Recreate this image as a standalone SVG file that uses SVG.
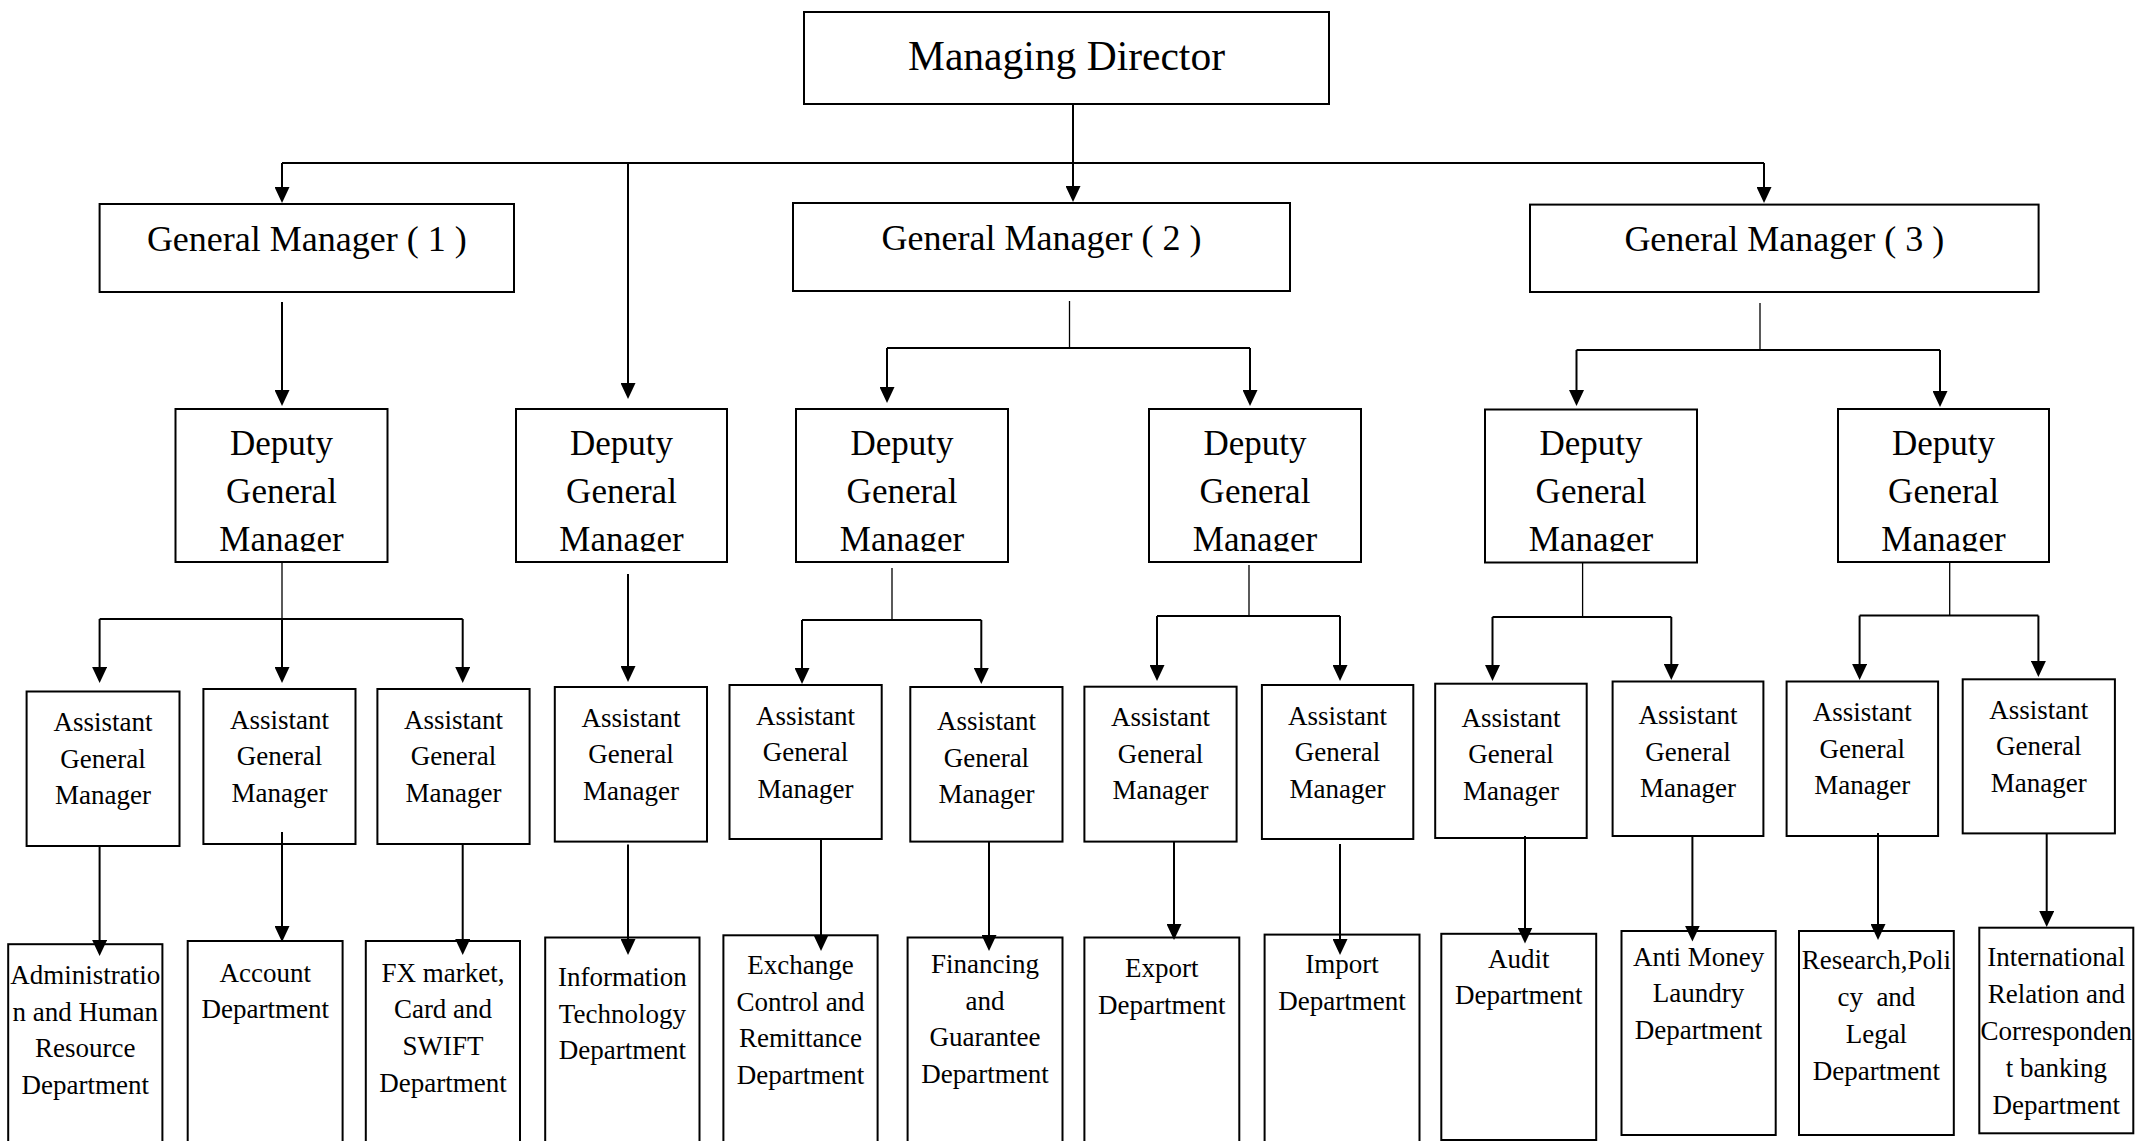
<svg xmlns="http://www.w3.org/2000/svg" width="2136" height="1141" viewBox="0 0 2136 1141">
<style>
.box{fill:#fff;stroke:#000;stroke-width:2}
.t{font-family:"Liberation Serif","Times New Roman",serif;fill:#000;text-anchor:middle}
.md{font-size:41.5px}
.gm{font-size:36px}
.dg{font-size:35px}
.ag{font-size:27px}
.dp{font-size:27px}
.c{fill:none;stroke:#000;stroke-width:2}
.a{fill:none;stroke:#000;stroke-width:2;marker-end:url(#ah)}
.s{fill:none;stroke:#000;stroke-width:1.3}
</style>
<defs>
<marker id="ah" viewBox="0 0 16 15" refX="6" refY="7.5" markerWidth="16" markerHeight="15" markerUnits="userSpaceOnUse" orient="auto"><path d="M0,0 L16,7.5 L0,15 z" fill="#000"/></marker>
<clipPath id="dclip" clipPathUnits="userSpaceOnUse"><rect x="0" y="0" width="2136" height="551.5"/></clipPath>
</defs>
<rect width="2136" height="1141" fill="#fff"/>

<g id="md"><rect class="box" x="804" y="12" width="525" height="92"/><text class="t md" x="1066.5" y="70">Managing Director</text></g>

<g id="gm1"><rect class="box" x="99.6" y="204" width="414.4" height="88"/><text class="t gm" x="306.8" y="251">General Manager ( 1 )</text></g>
<g id="gm2"><rect class="box" x="793" y="203" width="497" height="88"/><text class="t gm" x="1041.5" y="250">General Manager ( 2 )</text></g>
<g id="gm3"><rect class="box" x="1530" y="204.6" width="508.6" height="87.4"/><text class="t gm" x="1784.3" y="251">General Manager ( 3 )</text></g>

<g id="dgm1"><rect class="box" x="175.5" y="409" width="212" height="153"/><text class="t dg" x="281.5" y="455" clip-path="url(#dclip)"><tspan x="281.5">Deputy</tspan><tspan x="281.5" dy="48">General</tspan><tspan x="281.5" dy="48">Manager</tspan></text></g>
<g id="dgm2"><rect class="box" x="516" y="409" width="211" height="153"/><text class="t dg" x="621.5" y="455" clip-path="url(#dclip)"><tspan x="621.5">Deputy</tspan><tspan x="621.5" dy="48">General</tspan><tspan x="621.5" dy="48">Manager</tspan></text></g>
<g id="dgm3"><rect class="box" x="796" y="409" width="212" height="153"/><text class="t dg" x="902" y="455" clip-path="url(#dclip)"><tspan x="902">Deputy</tspan><tspan x="902" dy="48">General</tspan><tspan x="902" dy="48">Manager</tspan></text></g>
<g id="dgm4"><rect class="box" x="1149" y="409" width="212" height="153"/><text class="t dg" x="1255" y="455" clip-path="url(#dclip)"><tspan x="1255">Deputy</tspan><tspan x="1255" dy="48">General</tspan><tspan x="1255" dy="48">Manager</tspan></text></g>
<g id="dgm5"><rect class="box" x="1485" y="409.5" width="212" height="153"/><text class="t dg" x="1591" y="455" clip-path="url(#dclip)"><tspan x="1591">Deputy</tspan><tspan x="1591" dy="48">General</tspan><tspan x="1591" dy="48">Manager</tspan></text></g>
<g id="dgm6"><rect class="box" x="1838" y="409" width="211" height="153"/><text class="t dg" x="1943.5" y="455" clip-path="url(#dclip)"><tspan x="1943.5">Deputy</tspan><tspan x="1943.5" dy="48">General</tspan><tspan x="1943.5" dy="48">Manager</tspan></text></g>

<g id="agm1"><rect class="box" x="26.6" y="691.5" width="152.9" height="154.5"/><text class="t ag" y="731"><tspan x="103">Assistant</tspan><tspan x="103" dy="36.5">General</tspan><tspan x="103" dy="36.5">Manager</tspan></text></g>
<g id="agm2"><rect class="box" x="203.4" y="689" width="152.1" height="155"/><text class="t ag" y="728.6"><tspan x="279.5">Assistant</tspan><tspan x="279.5" dy="36.5">General</tspan><tspan x="279.5" dy="36.5">Manager</tspan></text></g>
<g id="agm3"><rect class="box" x="377.4" y="689" width="152.2" height="155"/><text class="t ag" y="728.6"><tspan x="453.5">Assistant</tspan><tspan x="453.5" dy="36.5">General</tspan><tspan x="453.5" dy="36.5">Manager</tspan></text></g>
<g id="agm4"><rect class="box" x="554.8" y="687" width="152.2" height="154.6"/><text class="t ag" y="726.5"><tspan x="631">Assistant</tspan><tspan x="631" dy="36.5">General</tspan><tspan x="631" dy="36.5">Manager</tspan></text></g>
<g id="agm5"><rect class="box" x="729.5" y="685" width="152.2" height="154"/><text class="t ag" y="724.8"><tspan x="805.6">Assistant</tspan><tspan x="805.6" dy="36.5">General</tspan><tspan x="805.6" dy="36.5">Manager</tspan></text></g>
<g id="agm6"><rect class="box" x="910.3" y="687" width="152.2" height="154.6"/><text class="t ag" y="730"><tspan x="986.4">Assistant</tspan><tspan x="986.4" dy="36.5">General</tspan><tspan x="986.4" dy="36.5">Manager</tspan></text></g>
<g id="agm7"><rect class="box" x="1084.4" y="686.7" width="152.2" height="154.9"/><text class="t ag" y="726.2"><tspan x="1160.5">Assistant</tspan><tspan x="1160.5" dy="36.5">General</tspan><tspan x="1160.5" dy="36.5">Manager</tspan></text></g>
<g id="agm8"><rect class="box" x="1261.9" y="685" width="151.4" height="154"/><text class="t ag" y="724.5"><tspan x="1337.6">Assistant</tspan><tspan x="1337.6" dy="36.5">General</tspan><tspan x="1337.6" dy="36.5">Manager</tspan></text></g>
<g id="agm9"><rect class="box" x="1435.2" y="683.7" width="151.5" height="154.3"/><text class="t ag" y="726.7"><tspan x="1511">Assistant</tspan><tspan x="1511" dy="36.5">General</tspan><tspan x="1511" dy="36.5">Manager</tspan></text></g>
<g id="agm10"><rect class="box" x="1612.6" y="681.5" width="150.8" height="154.5"/><text class="t ag" y="724"><tspan x="1688">Assistant</tspan><tspan x="1688" dy="36.5">General</tspan><tspan x="1688" dy="36.5">Manager</tspan></text></g>
<g id="agm11"><rect class="box" x="1786.6" y="681.5" width="151.5" height="154.5"/><text class="t ag" y="721"><tspan x="1862.3">Assistant</tspan><tspan x="1862.3" dy="36.5">General</tspan><tspan x="1862.3" dy="36.5">Manager</tspan></text></g>
<g id="agm12"><rect class="box" x="1962.7" y="679.3" width="152.2" height="154.1"/><text class="t ag" y="718.6"><tspan x="2038.8">Assistant</tspan><tspan x="2038.8" dy="36.5">General</tspan><tspan x="2038.8" dy="36.5">Manager</tspan></text></g>

<g id="dept1"><rect class="box" x="8.2" y="944.2" width="154.2" height="220"/><text class="t dp" y="984"><tspan x="85.3">Administratio</tspan><tspan x="85.3" dy="36.7">n and Human</tspan><tspan x="85.3" dy="36.7">Resource</tspan><tspan x="85.3" dy="36.7">Department</tspan></text></g>
<g id="dept2"><rect class="box" x="187.7" y="941" width="154.9" height="220"/><text class="t dp" y="981.6"><tspan x="265.2">Account</tspan><tspan x="265.2" dy="36.7">Department</tspan></text></g>
<g id="dept3"><rect class="box" x="365.8" y="941" width="154.2" height="220"/><text class="t dp" y="981.6"><tspan x="443">FX market,</tspan><tspan x="443" dy="36.7">Card and</tspan><tspan x="443" dy="36.7">SWIFT</tspan><tspan x="443" dy="36.7">Department</tspan></text></g>
<g id="dept4"><rect class="box" x="545.2" y="937.5" width="154.3" height="220"/><text class="t dp" y="986"><tspan x="622.4">Information</tspan><tspan x="622.4" dy="36.7">Technology</tspan><tspan x="622.4" dy="36.7">Department</tspan></text></g>
<g id="dept5"><rect class="box" x="723.4" y="935.3" width="154.2" height="220"/><text class="t dp" y="974"><tspan x="800.5">Exchange</tspan><tspan x="800.5" dy="36.7">Control and</tspan><tspan x="800.5" dy="36.7">Remittance</tspan><tspan x="800.5" dy="36.7">Department</tspan></text></g>
<g id="dept6"><rect class="box" x="907.6" y="937.5" width="154.9" height="220"/><text class="t dp" y="973"><tspan x="985">Financing</tspan><tspan x="985" dy="36.7">and</tspan><tspan x="985" dy="36.7">Guarantee</tspan><tspan x="985" dy="36.7">Department</tspan></text></g>
<g id="dept7"><rect class="box" x="1084.4" y="937.5" width="154.9" height="220"/><text class="t dp" y="976.8"><tspan x="1161.8">Export</tspan><tspan x="1161.8" dy="36.7">Department</tspan></text></g>
<g id="dept8"><rect class="box" x="1264.6" y="934.6" width="154.9" height="220"/><text class="t dp" y="973"><tspan x="1342">Import</tspan><tspan x="1342" dy="36.7">Department</tspan></text></g>
<g id="dept9"><rect class="box" x="1441.3" y="933.8" width="154.9" height="206.2"/><text class="t dp" y="967.6"><tspan x="1518.7">Audit</tspan><tspan x="1518.7" dy="36.7">Department</tspan></text></g>
<g id="dept10"><rect class="box" x="1621.5" y="931" width="154.2" height="204"/><text class="t dp" y="965.7"><tspan x="1698.6">Anti Money</tspan><tspan x="1698.6" dy="36.7">Laundry</tspan><tspan x="1698.6" dy="36.7">Department</tspan></text></g>
<g id="dept11"><rect class="box" x="1799" y="931" width="154.8" height="204"/><text class="t dp" y="969.4"><tspan x="1876.4">Research,Poli</tspan><tspan x="1876.4" dy="36.7" xml:space="preserve">cy  and</tspan><tspan x="1876.4" dy="36.7">Legal</tspan><tspan x="1876.4" dy="36.7">Department</tspan></text></g>
<g id="dept12"><rect class="box" x="1979.3" y="927.7" width="154" height="205.6"/><text class="t dp" y="966.4"><tspan x="2056.3">International</tspan><tspan x="2056.3" dy="37">Relation and</tspan><tspan x="2056.3" dy="37">Corresponden</tspan><tspan x="2056.3" dy="37">t banking</tspan><tspan x="2056.3" dy="37">Department</tspan></text></g>

<g id="connectors">
<path class="c" d="M282,163 H1764"/>
<path class="a" d="M1073,104 V192"/>
<path class="a" d="M282,163 V193"/>
<path class="a" d="M628,163 V389"/>
<path class="a" d="M1764,163 V193"/>
<path class="a" d="M282,302 V396"/>
<path class="s" d="M1069.5,301 V348"/>
<path class="c" d="M887,348 H1250"/>
<path class="a" d="M887,348 V393"/>
<path class="a" d="M1250,348 V396"/>
<path class="s" d="M1760,303 V350"/>
<path class="c" d="M1576.5,350 H1940"/>
<path class="a" d="M1576.5,350 V396"/>
<path class="a" d="M1940,350 V397"/>

<path class="s" d="M282,562 V619"/>
<path class="c" d="M99.6,619 H462.7"/>
<path class="a" d="M99.6,619 V673"/>
<path class="a" d="M282,619 V673"/>
<path class="a" d="M462.7,619 V673"/>
<path class="a" d="M628,574 V672"/>
<path class="s" d="M892,568 V620"/>
<path class="c" d="M802,620 H981.3"/>
<path class="a" d="M802,620 V674"/>
<path class="a" d="M981.3,620 V674"/>
<path class="s" d="M1249,565 V616"/>
<path class="c" d="M1157,616 H1340"/>
<path class="a" d="M1157,616 V671"/>
<path class="a" d="M1340,616 V671"/>
<path class="s" d="M1582.6,562 V617"/>
<path class="c" d="M1492.5,617 H1671.3"/>
<path class="a" d="M1492.5,617 V671"/>
<path class="a" d="M1671.3,617 V670"/>
<path class="s" d="M1949.7,562 V615.6"/>
<path class="c" d="M1859.6,615.6 H2038.4"/>
<path class="a" d="M1859.6,615.6 V670"/>
<path class="a" d="M2038.4,615.6 V667"/>

<path class="a" d="M99.6,846 V946"/>
<path class="a" d="M282,832 V932"/>
<path class="a" d="M462.7,844 V945"/>
<path class="a" d="M628,844.5 V945"/>
<path class="a" d="M821,840 V941"/>
<path class="a" d="M989,842 V941"/>
<path class="a" d="M1174,842 V930"/>
<path class="a" d="M1340,844 V945"/>
<path class="a" d="M1525,836 V933.5"/>
<path class="a" d="M1692.4,836 V931.6"/>
<path class="a" d="M1878,833 V930"/>
<path class="a" d="M2046.7,833 V917"/>
</g>
</svg>
